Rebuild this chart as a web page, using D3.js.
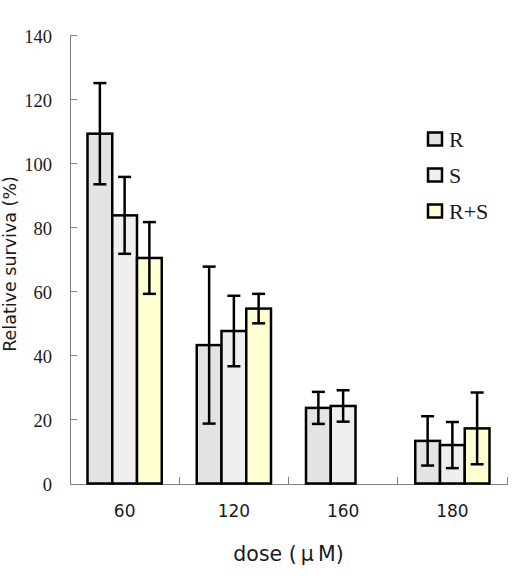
<!DOCTYPE html>
<html>
<head>
<meta charset="utf-8">
<script src="https://cdn.jsdelivr.net/npm/d3@7"></script>
<style>
	body { margin: 0; background: #fff; }
	svg { display: block; }
	.axis path, .axis line { stroke: #808080; stroke-width: 1; shape-rendering: crispEdges; }
	.y.axis text { font-family: "Liberation Serif", serif; font-size: 18.5px; fill: #1a1a1a; }
	.x.axis text { font-family: "DejaVu Sans", sans-serif; font-size: 17px; fill: #1a1a1a; }
	.title { font-family: "DejaVu Sans", sans-serif; fill: #1a1a1a; }
	.legend text { font-family: "Liberation Serif", serif; font-size: 22px; fill: #1a1a1a; }
</style>
</head>
<body>
<div id="chart"></div>
<script>
const categories = ["60", "120", "160", "180"];
const series = ["R", "S", "R+S"];
const valuesR = [109.2, 43.2, 23.6, 13.3];
const errorsR = [15.8, 24.5, 5.0, 7.7];
const valuesS = [83.7, 47.6, 24.2, 12.0];
const errorsS = [12.0, 11.0, 4.9, 7.2];
const valuesRS = [70.4, 54.6, null, 17.2];
const errorsRS = [11.2, 4.6, null, 11.2];
const yTicks = [0, 20, 40, 60, 80, 100, 120, 140];
const colors = ["#e3e3e3", "#efefef", "#ffffd2"];

const W = 513, H = 576;
const plotLeft = 70, plotRight = 507, plotTop = 35, plotBottom = 483.5;

const svg = d3.select('#chart').append('svg')
	.attr('width', W)
	.attr('height', H);

const x = d3.scaleBand().domain(categories).range([plotLeft, plotRight]);
const x1 = d3.scaleBand().domain(series).range([17.5, x.bandwidth() - 17.5]);
const y = d3.scaleLinear().domain([0, 140]).range([plotBottom, plotTop]);
const color = d3.scaleOrdinal().domain(series).range(colors);

const vals = [valuesR, valuesS, valuesRS];
const errs = [errorsR, errorsS, errorsRS];
const rows = [];
categories.forEach((c, i) => {
	series.forEach((s, j) => {
		if (vals[j][i] == null) return;
		rows.push({ cat: c, ser: s, v: vals[j][i], e: errs[j][i] });
	});
});

// y axis, ticks pointing inward
svg.append('g')
	.attr('class', 'axis y')
	.attr('transform', `translate(${plotLeft},0)`)
	.call(d3.axisLeft(y).tickValues(yTicks).tickSizeInner(-7).tickSizeOuter(0).tickPadding(18))
	.call(g => g.selectAll('text').attr('dy', '0.38em'));

// x axis with labels at band centres
svg.append('g')
	.attr('class', 'axis x')
	.attr('transform', `translate(0,${plotBottom})`)
	.call(d3.axisBottom(x).tickSize(0).tickSizeOuter(0).tickPadding(21));

// boundary ticks between categories
svg.append('g')
	.attr('class', 'axis')
	.selectAll('line')
	.data(categories)
	.join('line')
	.attr('x1', d => x(d) + x.bandwidth())
	.attr('x2', d => x(d) + x.bandwidth())
	.attr('y1', plotBottom)
	.attr('y2', plotBottom - 7);

const bars = svg.append('g');
bars.selectAll('rect')
	.data(rows)
	.join('rect')
	.attr('x', d => x(d.cat) + x1(d.ser))
	.attr('y', d => y(d.v))
	.attr('width', x1.bandwidth())
	.attr('height', d => y(0) - y(d.v))
	.attr('fill', d => color(d.ser))
	.attr('stroke', '#000')
	.attr('stroke-width', 2.5);

const cap = 6.5;
const err = svg.append('g')
	.attr('stroke', '#000')
	.attr('stroke-width', 2.5)
	.selectAll('g')
	.data(rows)
	.join('g')
	.attr('transform', d => `translate(${x(d.cat) + x1(d.ser) + x1.bandwidth() / 2},0)`);
err.append('line')
	.attr('y1', d => y(d.v + d.e))
	.attr('y2', d => y(d.v - d.e));
err.append('line')
	.attr('x1', -cap).attr('x2', cap)
	.attr('y1', d => y(d.v + d.e)).attr('y2', d => y(d.v + d.e));
err.append('line')
	.attr('x1', -cap).attr('x2', cap)
	.attr('y1', d => y(d.v - d.e)).attr('y2', d => y(d.v - d.e));

// legend
const legend = svg.append('g')
	.attr('class', 'legend')
	.selectAll('g')
	.data(series)
	.join('g')
	.attr('transform', (d, i) => `translate(428,${139 + i * 36})`);
legend.append('rect')
	.attr('x', 0).attr('y', -6.5)
	.attr('width', 14).attr('height', 13)
	.attr('fill', d => color(d))
	.attr('stroke', '#000')
	.attr('stroke-width', 2.5);
legend.append('text')
	.attr('x', 21)
	.attr('y', 8)
	.text(d => d);

// axis titles
svg.append('text')
	.attr('class', 'title')
	.attr('transform', 'translate(16,264) rotate(-90)')
	.attr('text-anchor', 'middle')
	.attr('font-size', 17.5)
	.text('Relative surviva (%)');

svg.append('text')
	.attr('class', 'title')
	.attr('x', (plotLeft + plotRight) / 2)
	.attr('y', 561)
	.attr('text-anchor', 'middle')
	.attr('font-size', 20.5)
	.text('dose (\u2009μ\u2009M)');
</script>
</body>
</html>
